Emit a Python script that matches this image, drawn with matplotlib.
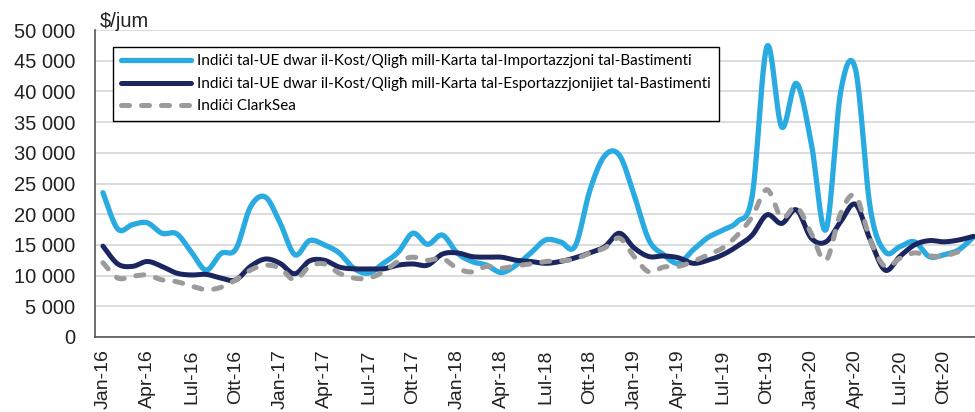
import numpy as np
import matplotlib
matplotlib.use("Agg")
import matplotlib.pyplot as plt
from matplotlib.ticker import FuncFormatter, MultipleLocator

# ---------------- data ----------------
tick_labels = ["Jan-16", "Apr-16", "Lul-16", "Ott-16", "Jan-17", "Apr-17", "Lul-17",
               "Ott-17", "Jan-18", "Apr-18", "Lul-18", "Ott-18", "Jan-19", "Apr-19",
               "Lul-19", "Ott-19", "Jan-20", "Apr-20", "Lul-20", "Ott-20"]

imp = [23500, 17600, 18300, 18600, 16900, 16800, 13800, 10900, 13600, 14300, 21200, 22800,
       18600, 13400, 15700, 15000, 13700, 11200, 10400, 12000, 13800, 16900, 15100, 16600,
       13700, 12300, 11700, 10500, 11700, 13700, 15800, 15500, 14800, 23900, 29500, 29600,
       23100, 15800, 13400, 12000, 14200, 16200, 17400, 18800, 23000, 47300, 34200, 41300,
       31600, 17500, 40000, 43600, 21000, 13900, 14700, 15500, 13100, 13400, 14200, 16300]

exp = [14800, 11900, 11500, 12300, 11500, 10400, 10100, 10200, 9600, 9300, 11500, 12700,
       12000, 10300, 12400, 12500, 11400, 11100, 11100, 11100, 11700, 11900, 11700, 13500,
       13700, 13100, 13000, 13000, 12500, 12300, 12000, 12300, 12900, 13700, 14700, 16900,
       14500, 13100, 13200, 12900, 12000, 12500, 13400, 14800, 16600, 19900, 18500, 20700,
       16100, 15500, 18800, 21600, 15800, 10900, 13100, 15000, 15700, 15500, 15800, 16400]

clark = [12100, 9600, 9900, 10100, 9300, 9000, 8300, 7700, 8100, 9300, 10900, 11700,
         11200, 9300, 11500, 11900, 10400, 9600, 9600, 10600, 12300, 13000, 12500, 12800,
         11200, 10600, 11500, 11200, 11600, 11900, 12300, 12400, 12700, 13700, 14500, 16100,
         13100, 10600, 11400, 11500, 12300, 13400, 14500, 16600, 19600, 24000, 19400, 21200,
         16900, 12500, 20200, 23000, 15800, 11500, 12800, 13700, 13200, 13200, 13900]

labels = ["Indiċi tal-UE dwar il-Kost/Qligħ mill-Karta tal-Importazzjoni tal-Bastimenti",
          "Indiċi tal-UE dwar il-Kost/Qligħ mill-Karta tal-Esportazzjonijiet tal-Bastimenti",
          "Indiċi ClarkSea"]


def smooth(vals, n=24):
    """Excel-like smoothed line (Catmull-Rom / Bezier through the points)."""
    y = np.asarray(vals, float)
    x = np.arange(len(y), dtype=float)
    P = np.column_stack([x, y])
    Pp = np.vstack([P[0], P, P[-1]])
    out = []
    t = np.linspace(0, 1, n, endpoint=False)[:, None]
    for i in range(len(P) - 1):
        p0, p1, p2, p3 = Pp[i], Pp[i + 1], Pp[i + 2], Pp[i + 3]
        b0 = p1
        b1 = p1 + (p2 - p0) / 6.0
        b2 = p2 - (p3 - p1) / 6.0
        b3 = p2
        seg = ((1 - t) ** 3) * b0 + 3 * ((1 - t) ** 2) * t * b1 + 3 * (1 - t) * t ** 2 * b2 + t ** 3 * b3
        out.append(seg)
    out.append(P[-1][None, :])
    c = np.vstack(out)
    return c[:, 0], c[:, 1]


plt.rcParams['font.family'] = ['Liberation Sans', 'DejaVu Sans']

fig = plt.figure(figsize=(9.75, 4.12), dpi=100)
ax = fig.add_axes([95 / 975, 1 - 337 / 412, 880 / 975, 307 / 412])

c_imp = "#29ABE2"
c_exp = "#1B2660"
c_clk = "#9B9B9B"

x1, y1 = smooth(imp)
x2, y2 = smooth(exp)
x3, y3 = smooth(clark)
ax.plot(x1, y1, color=c_imp, lw=3.8, solid_capstyle='round', label=labels[0], zorder=3)
ax.plot(x2, y2, color=c_exp, lw=3.6, solid_capstyle='round', label=labels[1], zorder=4)
ax.plot(x3, y3, color=c_clk, lw=3.6, linestyle=(0, (1.6, 2.4)), dash_capstyle='round',
        label=labels[2], zorder=5)

ax.set_ylim(0, 50000)
ax.set_xlim(-0.54, 59.1)
ax.yaxis.set_major_locator(MultipleLocator(5000))
ax.yaxis.set_major_formatter(FuncFormatter(lambda v, p: f"{int(v):,}".replace(",", " ")))
ax.set_xticks(np.arange(0, 60, 3))
ax.set_xticklabels(tick_labels, rotation=90)
ax.tick_params(axis='y', length=0, pad=14, labelsize=14.5, colors="#222222")
ax.tick_params(axis='x', length=0, pad=9, labelsize=14, colors="#222222")

ax.grid(axis='y', color="#D9D9D9", lw=1.3, zorder=0)
ax.set_axisbelow(True)
for s in ["top", "right"]:
    ax.spines[s].set_visible(False)
for s in ["left", "bottom"]:
    ax.spines[s].set_color("#555555")
    ax.spines[s].set_linewidth(1.2)

fig.text(100 / 975, 1 - 27 / 412, "$/jum", fontsize=14.5, color="#222222", ha='left', va='baseline')

leg = ax.legend(loc='upper left', bbox_to_anchor=(0.012, 0.970), frameon=True, fancybox=False,
                edgecolor="black", framealpha=1, handlelength=4.6, handletextpad=0.4,
                labelspacing=0.55, borderpad=0.5,
                prop={'family': ['Lato', 'DejaVu Sans'], 'size': 11})
leg.get_frame().set_linewidth(1.0)
leg.set_zorder(10)

fig.savefig("out.png", dpi=100)
